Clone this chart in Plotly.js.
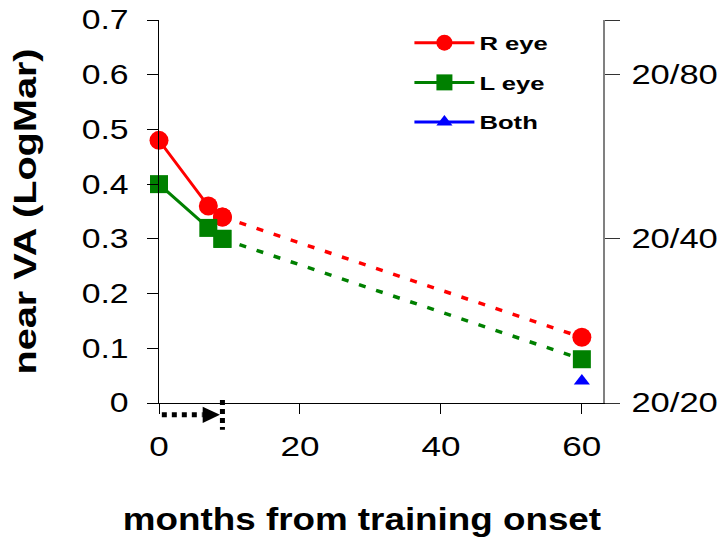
<!DOCTYPE html>
<html>
<head>
<meta charset="utf-8">
<script src="https://cdn.plot.ly/plotly-3.0.1.min.js"></script>
<style>
  html, body { margin: 0; padding: 0; background: #fff; }
  #chart { width: 719px; height: 553px; }
</style>
</head>
<body>
<div id="chart"></div>
<script>
// ---- data ----
var months = [0, 7, 9];
var followUpMonth = [9, 60];
var rEye = [0.48, 0.36, 0.34];
var rEyeFollow = [0.34, 0.12];
var lEye = [0.40, 0.32, 0.30];
var lEyeFollow = [0.30, 0.08];
var bothMonth = [60];
var bothEyes = [0.04];
var xTicks = [0, 20, 40, 60];
var snellenVals = [0, 0.3, 0.6, 0.7];
var snellenText = ['20/20', '20/40', '20/80', ''];
var trainingStart = 0;
var trainingEnd = 9;

var FONT = 'Liberation Sans, Arial, sans-serif';

var traces = [
  { x: followUpMonth, y: rEyeFollow, mode: 'lines+markers', showlegend: false,
    line: { color: '#ff0000', width: 3.5, dash: '7px,11px' },
    marker: { color: '#ff0000', size: 19, symbol: 'circle' }, cliponaxis: false },
  { x: followUpMonth, y: lEyeFollow, mode: 'lines+markers', showlegend: false,
    line: { color: '#008000', width: 3.5, dash: '7px,11px' },
    marker: { color: '#008000', size: 18, symbol: 'square' }, cliponaxis: false },
  { x: months, y: rEye, name: 'R eye', legendgroup: 'r', mode: 'lines+markers',
    line: { color: '#ff0000', width: 3 },
    marker: { color: '#ff0000', size: 19, symbol: 'circle' }, cliponaxis: false },
  { x: months, y: lEye, name: 'L eye', legendgroup: 'l', mode: 'lines+markers',
    line: { color: '#008000', width: 3 },
    marker: { color: '#008000', size: 18, symbol: 'square' }, cliponaxis: false },
  { x: bothMonth, y: bothEyes, name: 'Both', legendgroup: 'b', mode: 'lines+markers', yaxis: 'y2',
    line: { color: '#0000ff', width: 3 },
    marker: { color: '#0000ff', size: 14, symbol: 'triangle-up' }, cliponaxis: false }
];

var arrowY = -0.031;
var layout = {
  width: 719, height: 553,
  margin: { l: 159, r: 116, t: 20, b: 150, pad: 0 },
  paper_bgcolor: '#ffffff', plot_bgcolor: '#ffffff',
  font: { family: FONT, color: '#000' },
  showlegend: true,
  legend: {
    x: 0.564, xanchor: 'left', y: 0.99, yanchor: 'top',
    bgcolor: 'rgba(0,0,0,0)', borderwidth: 0,
    font: { family: FONT, size: 19, color: '#000', weight: 'bold' },
    itemwidth: 60, tracegroupgap: 12, traceorder: 'grouped'
  },
  xaxis: {
    range: [0, 63], tickvals: xTicks, ticks: 'outside', ticklen: 10, tickwidth: 1, tickcolor: '#000',
    showline: true, linecolor: '#000', linewidth: 1, showgrid: false, zeroline: false,
    tickfont: { family: FONT, size: 27, color: '#000' }, ticklabelstandoff: 10,
    title: { text: 'months from training onset', standoff: 46,
             font: { family: FONT, size: 32, color: '#000', weight: 'bold' } },
    automargin: false, fixedrange: true
  },
  yaxis: {
    range: [0, 0.7], dtick: 0.1, tick0: 0, ticks: 'outside', ticklen: 11, tickwidth: 1, tickcolor: '#000',
    showline: true, linecolor: '#000', linewidth: 1, showgrid: false, zeroline: false,
    tickfont: { family: FONT, size: 27, color: '#000' }, ticklabelstandoff: 13,
    title: { text: 'near VA (LogMar)', standoff: 37,
             font: { family: FONT, size: 32, color: '#000', weight: 'bold' } },
    automargin: false, fixedrange: true
  },
  yaxis2: {
    overlaying: 'y', side: 'right', anchor: 'x',
    range: [0, 0.7], tickvals: snellenVals, ticktext: snellenText,
    ticks: 'outside', ticklen: 15, tickwidth: 1, tickcolor: '#333',
    showline: true, linecolor: '#808080', linewidth: 2, showgrid: false, zeroline: false,
    tickfont: { family: FONT, size: 27, color: '#000' }, ticklabelstandoff: 6,
    automargin: false, fixedrange: true
  },
  shapes: [
    { type: 'line', xref: 'x', yref: 'paper', x0: trainingStart + 0.4, x1: trainingEnd - 2.8,
      y0: arrowY, y1: arrowY, line: { color: '#000', width: 5, dash: '5px,5px' } },
    { type: 'path', xref: 'x', yref: 'paper', fillcolor: '#000', line: { color: '#000', width: 0 },
      path: 'M' + (trainingEnd - 2.8) + ',' + (arrowY - 0.021) + ' L' + (trainingEnd - 0.35) + ',' + arrowY +
            ' L' + (trainingEnd - 2.8) + ',' + (arrowY + 0.021) + ' Z' },
    { type: 'line', xref: 'x', yref: 'paper', x0: trainingEnd, x1: trainingEnd,
      y0: 0.008, y1: -0.07, line: { color: '#000', width: 5, dash: '5px,4px' } }
  ]
};

function stretchText(selector, s, dx, screenDx) {
  document.querySelectorAll(selector).forEach(function (t) {
    var bb = t.getBBox();
    var anchor = t.getAttribute('text-anchor') || window.getComputedStyle(t).textAnchor || 'start';
    var ax = anchor === 'middle' ? bb.x + bb.width / 2 : (anchor === 'end' ? bb.x + bb.width : bb.x);
    var tr = t.getAttribute('transform') || '';
    var pre = screenDx ? 'translate(' + screenDx + ',0) ' : '';
    t.setAttribute('transform', pre + tr + ' translate(' + (ax + (dx || 0)) + ',0) scale(' + s + ',1) translate(' + (-ax) + ',0)');
  });
}

Plotly.newPlot('chart', traces, layout, { displayModeBar: false, staticPlot: true }).then(function () {
  document.querySelectorAll('.legend [clip-path]').forEach(function (e) { e.removeAttribute('clip-path'); });
  stretchText('.xtick text', 1.3);
  stretchText('.ytick text', 1.25);
  stretchText('.y2tick text', 1.28);
  stretchText('.legendtext', 1.35);
  stretchText('.xtitle', 1.15, -19);
  stretchText('.ytitle', 1.24, 0, -7);
});
</script>
</body>
</html>
